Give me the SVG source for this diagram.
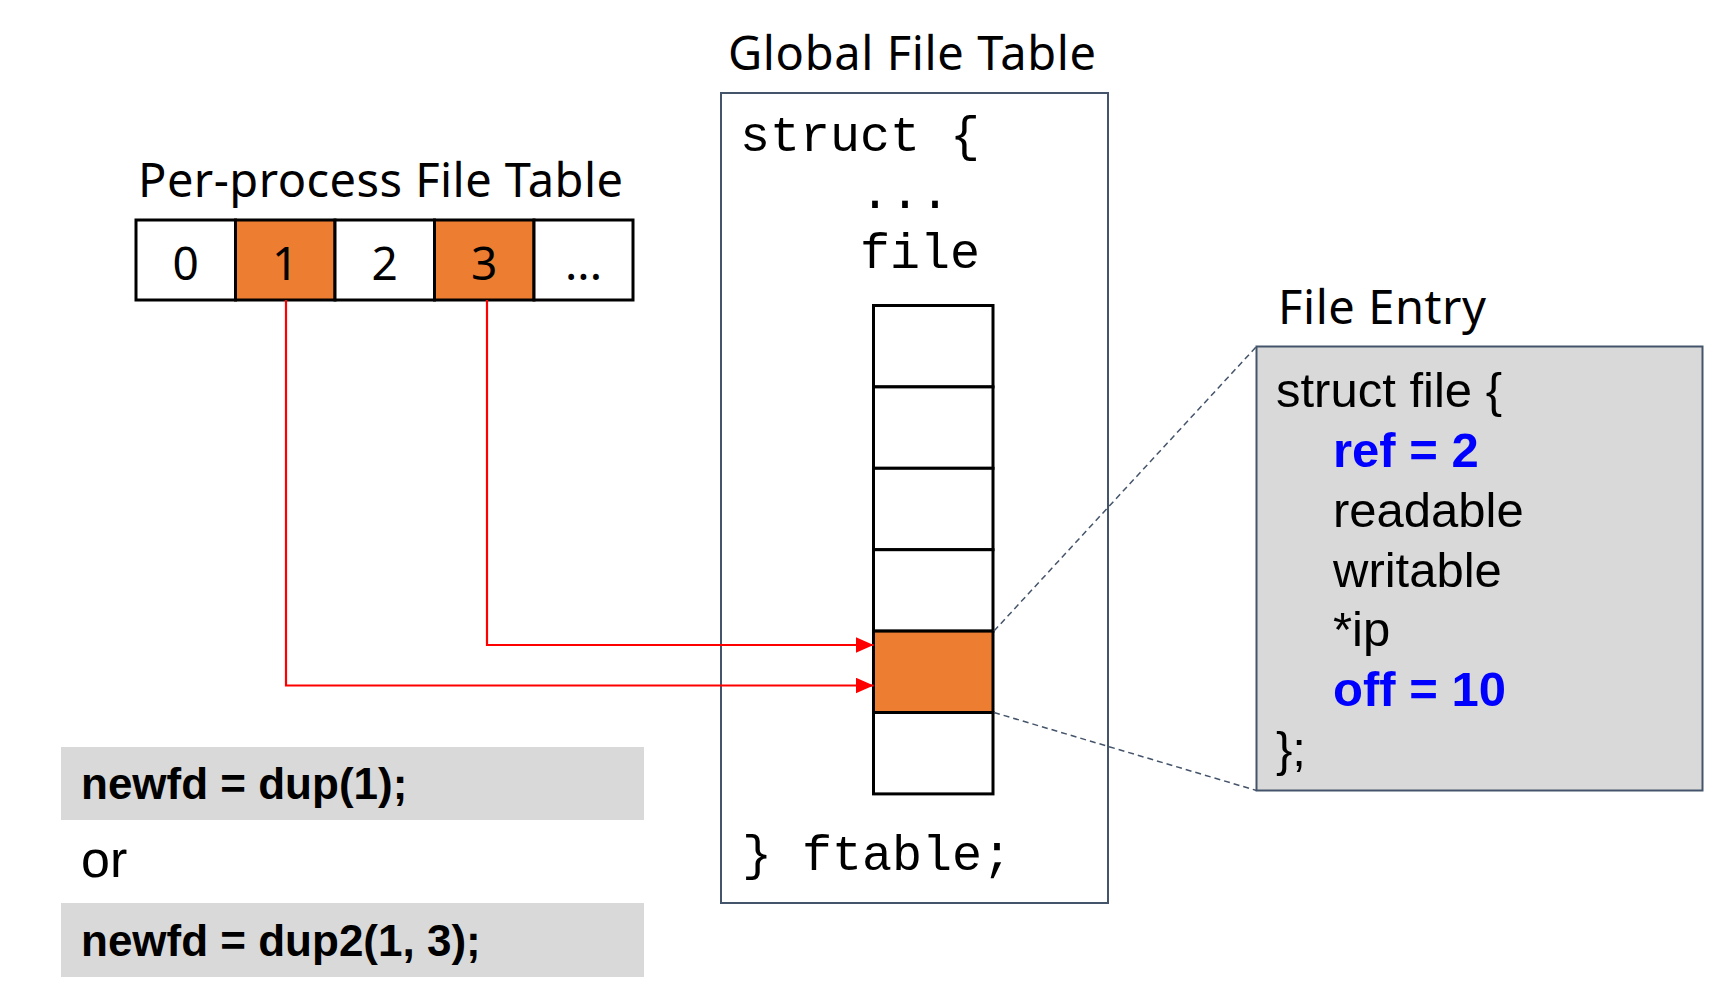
<svg xmlns="http://www.w3.org/2000/svg" width="1736" height="996" viewBox="0 0 1736 996">
<style>
.title{font-family:"Noto Sans","Open Sans",sans-serif;font-size:47px;fill:#000}
.digit{font-family:"Noto Sans","Open Sans",sans-serif;font-size:46px;fill:#000;text-anchor:middle}
.mono{font-family:"Liberation Mono","Courier New",monospace;font-size:50px;fill:#000}
.fe{font-family:"Liberation Sans",Arial,sans-serif;font-size:49px;fill:#000}
.blue{font-weight:bold;fill:#0000ff}
.code{font-family:"Liberation Sans",Arial,sans-serif;font-size:44px;fill:#000}
.or{font-size:52px}
.cell{stroke:#000;stroke-width:3}
.w{fill:#fff}
.o{fill:#ED7D31}
.frame{stroke:#44546A;stroke-width:2}
.red{stroke:#ff0000;stroke-width:2.2;fill:none}
.dash{stroke:#44546A;stroke-width:1.5;stroke-dasharray:6 4;fill:none}
</style>
<defs>
<marker id="ah" viewBox="0 0 18 16" refX="18" refY="8" markerWidth="18" markerHeight="16" markerUnits="userSpaceOnUse" orient="auto">
<path d="M0,0 L18,8 L0,16 z" fill="#ff0000"/>
</marker>
</defs>

<g id="per-process-table">
<text class="title" x="138" y="197" textLength="485" lengthAdjust="spacing">Per-process File Table</text>
<rect class="cell w" x="136" y="220" width="99.5" height="80"/>
<rect class="cell o" x="235.5" y="220" width="99.5" height="80"/>
<rect class="cell w" x="335" y="220" width="99.5" height="80"/>
<rect class="cell o" x="434.5" y="220" width="99.5" height="80"/>
<rect class="cell w" x="534" y="220" width="99" height="80"/>
<text class="digit" x="185.7" y="280">0</text>
<text class="digit" x="285.2" y="280">1</text>
<text class="digit" x="384.7" y="280">2</text>
<text class="digit" x="484.2" y="280">3</text>
<text class="digit" x="583.5" y="280">...</text>
</g>

<g id="global-file-table">
<text class="title" x="728" y="70" textLength="368" lengthAdjust="spacing">Global File Table</text>
<rect class="frame" x="721" y="93" width="387" height="810" fill="#fff"/>
<text class="mono" x="740" y="151" xml:space="preserve">struct {</text>
<text class="mono" x="860" y="208">...</text>
<text class="mono" x="860" y="268">file</text>
<text class="mono" x="742" y="870" xml:space="preserve">} ftable;</text>
</g>

<g id="ftable-column">
<rect class="cell w" x="873.5" y="305.5" width="119.5" height="81.4"/>
<rect class="cell w" x="873.5" y="386.9" width="119.5" height="81.4"/>
<rect class="cell w" x="873.5" y="468.3" width="119.5" height="81.4"/>
<rect class="cell w" x="873.5" y="549.7" width="119.5" height="81.4"/>
<rect class="cell o" x="873.5" y="631.1" width="119.5" height="81.4"/>
<rect class="cell w" x="873.5" y="712.5" width="119.5" height="81.4"/>
</g>

<g id="file-entry">
<text class="title" x="1278" y="324" textLength="208" lengthAdjust="spacing">File Entry</text>
<rect class="frame" x="1256.5" y="346.5" width="446" height="444" fill="#D9D9D9"/>
<text class="fe" x="1276" y="407">struct file {</text>
<text class="fe blue" x="1333" y="467">ref = 2</text>
<text class="fe" x="1333" y="527">readable</text>
<text class="fe" x="1333" y="587">writable</text>
<text class="fe" x="1333" y="646">*ip</text>
<text class="fe blue" x="1333" y="706">off = 10</text>
<text class="fe" x="1276" y="766">};</text>
</g>

<g id="dup-calls">
<rect x="61" y="747" width="583" height="73" fill="#D9D9D9"/>
<text class="code" x="81" y="799" font-weight="bold">newfd = dup(1);</text>
<text class="code or" x="81" y="877">or</text>
<rect x="61" y="903" width="583" height="74" fill="#D9D9D9"/>
<text class="code" x="81" y="956" font-weight="bold">newfd = dup2(1, 3);</text>
</g>

<g id="connectors">
<polyline class="red" points="286,300 286,685.5 873.5,685.5" marker-end="url(#ah)"/>
<polyline class="red" points="487,300 487,645 873.5,645" marker-end="url(#ah)"/>
<line class="dash" x1="994" y1="631" x2="1256.5" y2="346.5"/>
<line class="dash" x1="994" y1="712.5" x2="1256.5" y2="790.5"/>
</g>
</svg>
